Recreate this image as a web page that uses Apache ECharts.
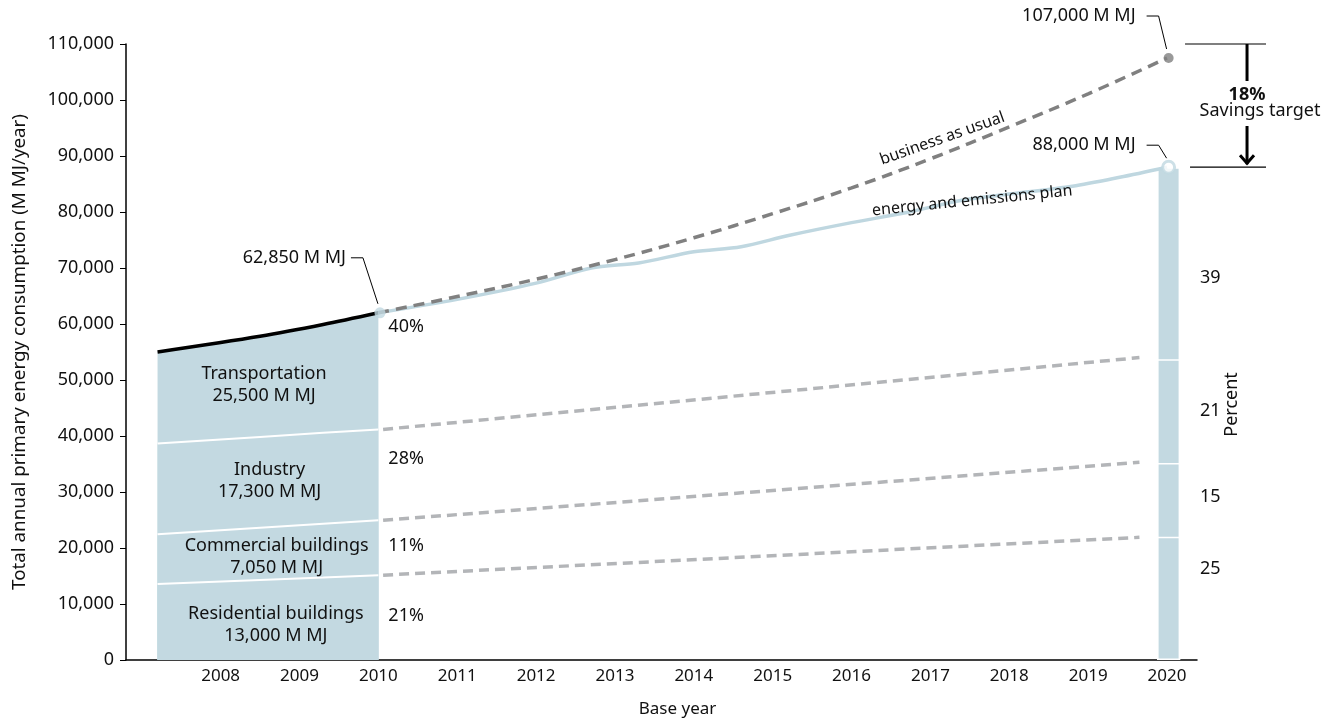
<!DOCTYPE html>
<html>
<head>
<meta charset="utf-8">
<title>Primary energy consumption</title>
<script src="https://cdn.jsdelivr.net/npm/echarts@6/dist/echarts.min.js"></script>
<style>
html,body{margin:0;padding:0;background:#fff;}
#main{width:1333px;height:723px;}
</style>
</head>
<body>
<div id="main"></div>
<script>
var FONT = '"Noto Sans", "Open Sans", sans-serif';
var FILL = '#c3d9e1';
var FS = 18;

// tick labels of the x axis
var years = [2008, 2009, 2010, 2011, 2012, 2013, 2014, 2015, 2016, 2017, 2018, 2019, 2020];

// base period (sector slices, bottom to top)
var baseX = [2007.2, 2008.5, 2009.3, 2010];
var residential = [13550, 14300, 14750, 15150];
var commercial = [8910, 9320, 9580, 9800];
var industry = [16220, 16220, 16230, 16230];
var transportation = [16320, 17960, 19340, 20820];
var sectorNames = ['Residential buildings', 'Commercial buildings', 'Industry', 'Transportation'];
var sectorMJ = ['13,000 M MJ', '7,050 M MJ', '17,300 M MJ', '25,500 M MJ'];
var sectorPct = ['21%', '11%', '28%', '40%'];

// projected sector boundaries 2010 -> 2020
var projX = [2010.06, 2019.65];
var projResidential = [15150, 21900];
var projCommercial = [24950, 35300];
var projIndustry = [41180, 54000];

// business as usual
var bauX = [2010, 2011, 2012, 2013, 2014, 2015, 2016, 2017, 2018, 2019, 2020];
var bauY = [62000, 64900, 68000, 71500, 75400, 79700, 84300, 89500, 95200, 101100, 107500];

// energy and emissions plan
var planX = [2010, 2011, 2012, 2012.7, 2013.3, 2014, 2014.6, 2015.2, 2016, 2016.7, 2017.4, 2018, 2018.8, 2019.4, 2020];
var planY = [62000, 64400, 67300, 70000, 70900, 72900, 73800, 75800, 78100, 79900, 82100, 83200, 84600, 86200, 88000];

// 2020 target split (bottom to top)
var target2020 = [22000, 13200, 18500, 34300];
var targetPct = ['25', '15', '21', '39'];

function pairs(xs, ys) {
  return xs.map(function (x, i) { return [x, ys[i]]; });
}
function fmt(v) {
  return String(v).replace(/\B(?=(\d{3})+(?!\d))/g, ',');
}

var chart = echarts.init(document.getElementById('main'));

var series = [];

// cumulative sector tops, drawn top slice first so white boundaries stay visible
var slices = [residential, commercial, industry, transportation];
var cum = [];
var run = baseX.map(function () { return 0; });
slices.forEach(function (arr) {
  run = run.map(function (v, j) { return v + arr[j]; });
  cum.push(run.slice());
});
for (var i = 3; i >= 0; i--) {
  series.push({
    name: sectorNames[i],
    type: 'line',
    data: pairs(baseX, cum[i]),
    symbol: 'none',
    smooth: i == 3 ? 0.3 : false,
    z: 2 + (3 - i),
    lineStyle: i == 3 ? {color: '#000', width: 3.5} : {color: '#fff', width: 2},
    areaStyle: {color: FILL, opacity: 1}
  });
}

[projResidential, projCommercial, projIndustry].forEach(function (arr) {
  series.push({
    type: 'line',
    data: pairs(projX, arr),
    symbol: 'none',
    lineStyle: {color: '#b3b5b8', width: 3.5, type: [10, 6]}
  });
});

series.push({
  name: 'energy and emissions plan',
  type: 'line',
  data: pairs(planX, planY),
  symbol: 'none',
  smooth: 0.3,
  z: 7,
  lineStyle: {color: '#bfd7e0', width: 3.5}
});
series.push({
  name: 'business as usual',
  type: 'line',
  data: pairs(bauX, bauY),
  symbol: 'none',
  smooth: 0.4,
  z: 8,
  lineStyle: {color: '#808080', width: 3.5, type: [11, 7]}
});

// 2020 bar: cumulative segments overlapped, largest first
var tsum = 0;
var tcum = target2020.map(function (v) { tsum += v; return tsum; });
for (var k = 3; k >= 0; k--) {
  series.push({
    type: 'bar',
    barWidth: 23,
    barGap: '-100%',
    z: 2 + (3 - k),
    data: [[2020.02, tcum[k]]],
    itemStyle: {color: FILL, borderColor: '#fff', borderWidth: 1.5}
  });
}

series.push({
  type: 'scatter',
  z: 10,
  data: [
    {value: [2010.02, 62000], symbolSize: 11, itemStyle: {color: '#c1d8e1'}},
    {value: [2020.02, bauY[bauY.length - 1]], symbolSize: 10, itemStyle: {color: '#808080'}},
    {value: [2020.02, 88000], symbolSize: 12, itemStyle: {color: '#fff', borderColor: '#c1d8e1', borderWidth: 3}}
  ]
});

var option = {
  animation: false,
  backgroundColor: '#fff',
  textStyle: {fontFamily: FONT},
  grid: {left: 126, right: 136, top: 44, bottom: 62},
  xAxis: {
    type: 'value',
    min: 2006.8,
    max: 2020.38,
    name: 'Base year',
    nameLocation: 'middle',
    nameGap: 41,
    nameTextStyle: {fontFamily: FONT, fontSize: 17, color: '#111', padding: [0, 0, 0, 32]},
    axisLine: {lineStyle: {color: '#000', width: 1.5}},
    axisTick: {show: false},
    splitLine: {show: false},
    axisLabel: {customValues: years, fontFamily: FONT, fontSize: 17, color: '#111', margin: 8,
      formatter: function (v) { return String(v); }}
  },
  yAxis: {
    type: 'value',
    min: 0,
    max: 110000,
    interval: 10000,
    name: 'Total annual primary energy consumption (M MJ/year)',
    nameLocation: 'middle',
    nameGap: 97,
    nameTextStyle: {fontFamily: FONT, fontSize: 18.8, color: '#111'},
    axisLine: {show: true, lineStyle: {color: '#000', width: 1.5}},
    axisTick: {show: true, inside: false, length: 6, lineStyle: {color: '#000'}},
    splitLine: {show: false},
    axisLabel: {fontFamily: FONT, fontSize: FS, color: '#111', margin: 12, formatter: fmt}
  },
  series: series
};
chart.setOption(option);

// annotations anchored on data coordinates
function px(x, y) { return chart.convertToPixel({gridIndex: 0}, [x, y]); }
var TXT = {fontFamily: FONT, fontSize: FS, fill: '#111'};
function text(x, y, str, extra) {
  var st = Object.assign({}, TXT, {text: str, x: 0, y: 0, align: 'left', verticalAlign: 'middle'}, extra || {});
  return {type: 'text', x: x, y: y, style: st, z: 50};
}
function line(points, w) {
  return {type: 'polyline', shape: {points: points}, style: {stroke: '#000', lineWidth: w || 1, fill: null}, z: 50};
}

var g = [];
// sector labels
var sectorLabelX = [2008.7, 2008.71, 2008.62, 2008.55];
var sectorMid = [6240, 18360, 31900, 49200];
sectorNames.forEach(function (n, i) {
  var p = px(sectorLabelX[i], sectorMid[i]);
  g.push(text(p[0], p[1] - 11, n, {align: 'center'}));
  g.push(text(p[0], p[1] + 11, sectorMJ[i], {align: 'center'}));
});
// left percentages
var pctY = [7840, 20320, 35830, 59550];
sectorPct.forEach(function (s, i) {
  var p = px(2010, pctY[i]);
  g.push(text(p[0] + 10, p[1], s));
});
// right percentages
var rpY = [16220, 29060, 44570, 68280];
targetPct.forEach(function (s, i) {
  var p = px(2020, rpY[i]);
  g.push(text(p[0] + 33, p[1], s));
});
var pp = px(2020, 45640);
var perc = text(pp[0] + 65, pp[1], 'Percent', {align: 'center'});
perc.rotation = Math.PI / 2;
g.push(perc);

// callouts
function callout(pt, str, dy, elbowDx, gap) {
  var p = px(pt[0], pt[1]);
  var end = [p[0] - 2, p[1] - 9];
  var elbow = [p[0] - elbowDx, p[1] - dy];
  var start = [elbow[0] - 12, elbow[1]];
  g.push(line([start, elbow, end], 1));
  g.push(text(start[0] - gap, start[1], str, {align: 'right'}));
}
callout([2010.02, 62000], '62,850 M MJ', 55, 17, 5);
callout([2020.02, bauY[bauY.length - 1]], '107,000 M MJ', 42, 10, 11);
callout([2020.02, 88000], '88,000 M MJ', 22, 10, 11);

// savings target bracket
var brTop = px(2020, 110000), brBot = px(2020, 88000);
var ax = brTop[0] + 80;
g.push(line([[brTop[0] + 18, brTop[1]], [brTop[0] + 99, brTop[1]]], 1.2));
g.push(line([[brBot[0] + 23, brBot[1]], [brBot[0] + 99, brBot[1]]], 1.2));
g.push(line([[ax, brTop[1]], [ax, brTop[1] + 37]], 3));
g.push(line([[ax, brTop[1] + 82], [ax, brBot[1] - 3]], 3));
g.push(line([[ax - 7, brBot[1] - 12], [ax, brBot[1] - 4], [ax + 7, brBot[1] - 12]], 3));
g.push(text(ax, brTop[1] + 51, '18%', {align: 'center', fontWeight: 'bold'}));
g.push(text(ax + 13, brTop[1] + 67, 'Savings target', {align: 'center'}));

// line labels
var b = px(2017.15, 93100);
var bl = text(b[0], b[1], 'business as usual', {align: 'center', fontSize: 16});
bl.rotation = 0.34;
g.push(bl);
var e = px(2017.53, 82000);
var el = text(e[0], e[1], 'energy and emissions plan', {align: 'center', fontSize: 16});
el.rotation = 0.1;
g.push(el);

chart.setOption({graphic: g});
</script>
</body>
</html>
